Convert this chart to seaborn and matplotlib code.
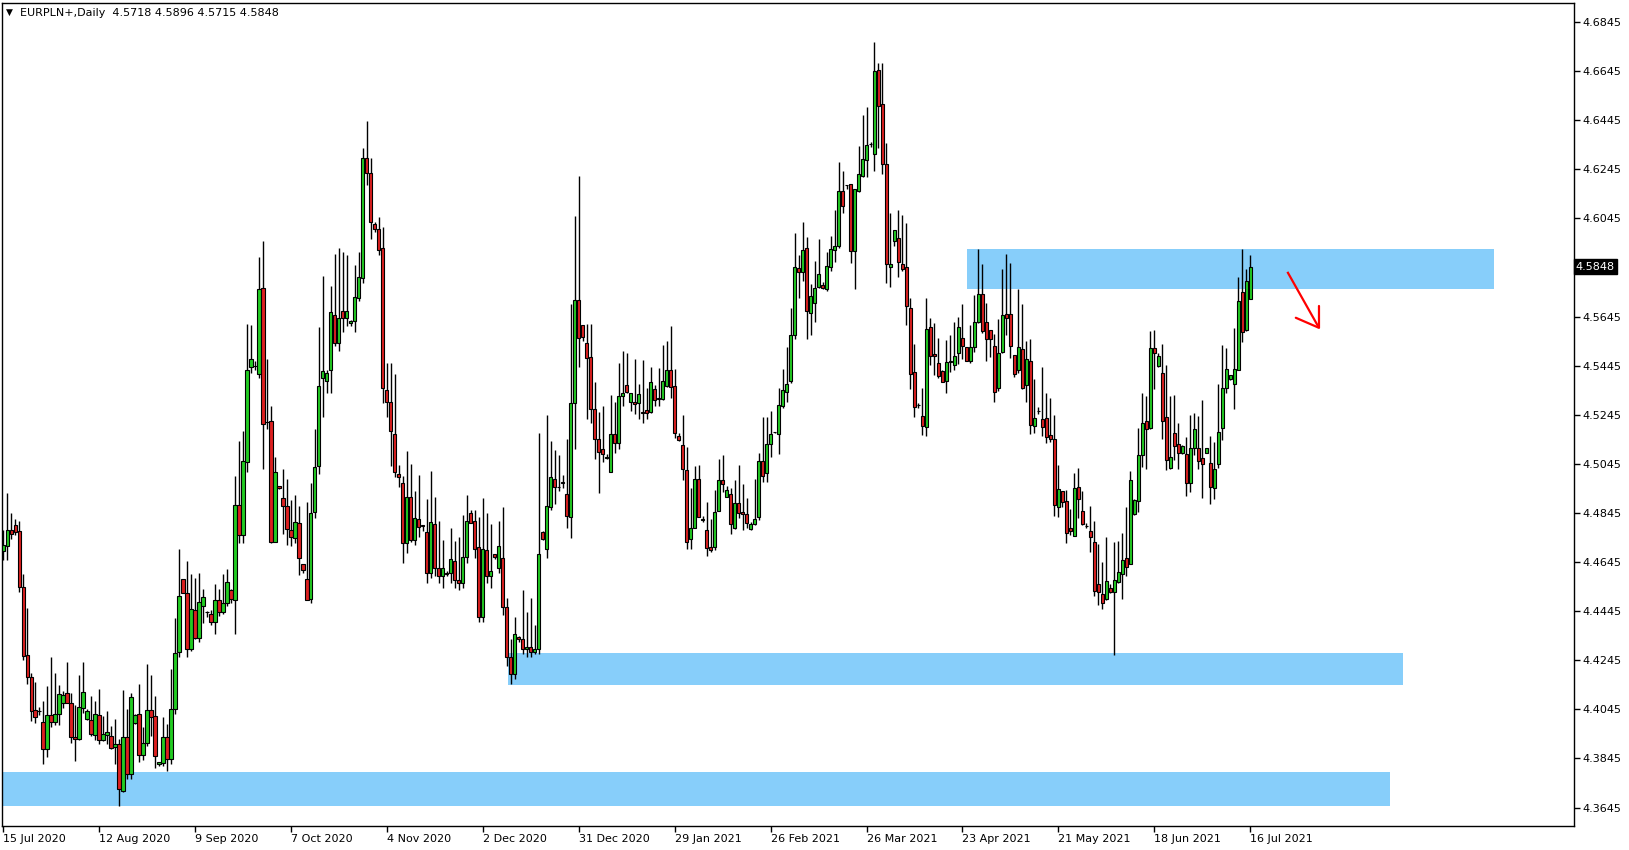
import numpy as np
import matplotlib
matplotlib.use("Agg")
import matplotlib.pyplot as plt
import matplotlib.transforms as mtransforms
import seaborn as sns

# ---------------- data ----------------
SYMBOL = "EURPLN+,Daily"
OPEN = [
 4.4691,4.4711,4.4775,4.4796,4.4771,4.4542,4.4266,4.4175,4.4042,4.4039,
 4.3992,4.3882,4.4022,4.3992,4.4028,4.4069,4.4110,4.4073,4.3931,4.3925,
 4.4052,4.4004,4.4001,4.3940,4.4024,4.3922,4.3942,4.3936,4.3893,4.3906,
 4.3713,4.3931,4.3780,4.3990,4.4028,4.3861,4.3910,4.4042,4.4018,4.3821,
 4.3827,4.3931,4.3841,4.4045,4.4280,4.4578,4.4521,4.4289,4.4449,4.4334,
 4.4467,4.4443,4.4435,4.4399,4.4490,4.4440,4.4480,4.4530,4.4492,4.4879,
 4.4757,4.5053,4.5438,4.5444,4.5409,4.5763,4.5216,4.5219,4.4727,4.4955,
 4.4904,4.4874,4.4775,4.4745,4.4806,4.4639,4.4574,4.4496,4.4847,4.5036,
 4.5395,4.5383,4.5427,4.5653,4.5539,4.5668,4.5640,4.5617,4.5628,4.5721,
 4.5800,4.6290,4.6230,4.6020,4.6000,4.5923,4.5346,4.5295,4.5166,4.5003,
 4.4965,4.4721,4.4908,4.4735,4.4819,4.4796,4.4766,4.4600,4.4802,4.4620,
 4.4590,4.4600,4.4600,4.4650,4.4570,4.4560,4.4664,4.4843,4.4813,4.4707,
 4.4420,4.4696,4.4590,4.4677,4.4620,4.4660,4.4460,4.4260,4.4190,4.4340,
 4.4330,4.4290,4.4300,4.4280,4.4290,4.4766,4.4700,4.4870,4.4982,4.4949,
 4.4968,4.4921,4.4830,4.5291,4.5712,4.5610,4.5536,4.5479,4.5267,4.5145,
 4.5105,4.5070,4.5013,4.5165,4.5131,4.5322,4.5366,4.5295,4.5295,4.5291,
 4.5257,4.5266,4.5257,4.5348,4.5311,4.5311,4.5362,4.5429,4.5362,4.5158,
 4.5121,4.5019,4.4737,4.4782,4.4985,4.4818,4.4775,4.4707,4.4707,4.4854,
 4.4979,4.4911,4.4924,4.4785,4.4884,4.4847,4.4839,4.4778,4.4799,4.4827,
 4.5056,4.5006,4.5125,4.5173,4.5165,4.5280,4.5339,4.5384,4.5570,4.5841,
 4.5827,4.5923,4.5661,4.5699,4.5766,4.5773,4.5757,4.5848,4.5916,4.5932,
 4.6156,4.6180,4.6183,4.5913,4.6157,4.6219,4.6282,4.6346,4.6305,4.6649,
 4.6509,4.6265,4.5848,4.5954,4.5963,4.5861,4.5845,4.5678,4.5418,4.5284,
 4.5240,4.5194,4.5601,4.5491,4.5457,4.5423,4.5384,4.5458,4.5447,4.5495,
 4.5556,4.5519,4.5465,4.5519,4.5621,4.5735,4.5621,4.5590,4.5524,4.5352,
 4.5499,4.5655,4.5655,4.5490,4.5429,4.5512,4.5368,4.5463,4.5200,4.5261,
 4.5227,4.5230,4.5162,4.5146,4.4870,4.4934,4.4893,4.4784,4.4752,4.4949,
 4.4852,4.4792,4.4771,4.4725,4.4557,4.4514,4.4496,4.4541,4.4524,4.4565,
 4.4598,4.4662,4.4636,4.4840,4.4894,4.5083,4.5220,4.5189,4.5515,4.5443,
 4.5417,4.5237,4.5030,4.5169,4.5124,4.5090,4.5084,4.4969,4.5108,4.5108,
 4.5067,4.5091,4.5050,4.4945,4.5046,4.5192,4.5352,4.5389,4.5372,4.5429,
 4.5743,4.5590,4.5718]
HIGH = [
 4.4775,4.4925,4.4843,4.4820,4.4812,4.4595,4.4456,4.4195,4.4157,4.4053,
 4.4079,4.4140,4.4259,4.4195,4.4144,4.4119,4.4238,4.4113,4.4061,4.4185,
 4.4238,4.4046,4.4100,4.4079,4.4129,4.4018,4.4038,4.3977,4.4005,4.3925,
 4.4123,4.4045,4.4110,4.4028,4.4148,4.3974,4.4229,4.4185,4.4100,4.3829,
 4.4013,4.3984,4.4209,4.4418,4.4698,4.4578,4.4649,4.4595,4.4582,4.4600,
 4.4537,4.4446,4.4449,4.4555,4.4537,4.4598,4.4615,4.4537,4.4995,4.5137,
 4.5178,4.5614,4.5610,4.5465,4.5886,4.5952,4.5471,4.5280,4.5071,4.4955,
 4.5023,4.4983,4.4897,4.4920,4.4874,4.4639,4.4888,4.4965,4.5185,4.5603,
 4.5810,4.5429,4.5769,4.5899,4.5926,4.5909,4.5895,4.5630,4.5854,4.5909,
 4.6330,4.6440,4.6290,4.6030,4.6050,4.6011,4.5454,4.5454,4.5411,4.5040,
 4.4995,4.5097,4.5044,4.4934,4.5000,4.4796,4.4902,4.5016,4.4908,4.4812,
 4.4734,4.4610,4.4782,4.4729,4.4747,4.4836,4.4920,4.4859,4.4859,4.4830,
 4.4904,4.4843,4.4800,4.4677,4.4813,4.4870,4.4500,4.4330,4.4420,4.4345,
 4.4530,4.4440,4.4500,4.4390,4.5172,4.4772,4.5244,4.5138,4.5101,4.5081,
 4.5000,4.5145,4.5696,4.6054,4.6217,4.5610,4.5614,4.5614,4.5377,4.5257,
 4.5280,4.5087,4.5325,4.5295,4.5454,4.5504,4.5497,4.5334,4.5474,4.5372,
 4.5470,4.5355,4.5438,4.5366,4.5434,4.5529,4.5545,4.5606,4.5431,4.5171,
 4.5243,4.5114,4.4947,4.5036,4.5040,4.4832,4.4890,4.4822,4.4938,4.5063,
 4.5080,4.4954,4.4947,4.4981,4.5042,4.4961,4.4904,4.4809,4.4983,4.5090,
 4.5237,4.5237,4.5260,4.5175,4.5355,4.5431,4.5522,4.5678,4.5986,4.5895,
 4.6031,4.5967,4.5777,4.5872,4.5959,4.5784,4.5909,4.5973,4.6079,4.6276,
 4.6238,4.6181,4.6183,4.6163,4.6339,4.6466,4.6497,4.6357,4.6762,4.6676,
 4.6676,4.6350,4.6068,4.5997,4.6079,4.6058,4.6027,4.5722,4.5532,4.5294,
 4.5352,4.5719,4.5638,4.5617,4.5559,4.5427,4.5549,4.5570,4.5621,4.5642,
 4.5696,4.5522,4.5610,4.5732,4.5920,4.5861,4.5702,4.5590,4.5572,4.5633,
 4.5838,4.5899,4.5864,4.5490,4.5759,4.5696,4.5545,4.5553,4.5390,4.5275,
 4.5440,4.5332,4.5315,4.5243,4.5040,4.4934,4.4940,4.4860,4.5008,4.5029,
 4.4934,4.4805,4.4874,4.4811,4.4718,4.4646,4.4748,4.4555,4.4727,4.4730,
 4.4764,4.4870,4.5017,4.4900,4.5192,4.5332,4.5321,4.5585,4.5590,4.5495,
 4.5535,4.5447,4.5321,4.5325,4.5213,4.5121,4.5155,4.5243,4.5253,4.5239,
 4.5304,4.5110,4.5158,4.5135,4.5372,4.5529,4.5515,4.5406,4.5600,4.5804,
 4.5922,4.5837,4.5896]
LOW = [
 4.4653,4.4653,4.4737,4.4755,4.4524,4.4248,4.4147,4.3999,4.3988,4.4024,
 4.3821,4.3852,4.3974,4.3981,4.3981,4.4052,4.4069,4.3909,4.3836,4.3920,
 4.4031,4.4001,4.3936,4.3922,4.3903,4.3917,4.3902,4.3882,4.3821,4.3652,
 4.3709,4.3760,4.3760,4.3986,4.3832,4.3838,4.3897,4.3937,4.3808,4.3815,
 4.3815,4.3795,4.3822,4.4028,4.4257,4.4521,4.4259,4.4284,4.4330,4.4320,
 4.4395,4.4422,4.4388,4.4350,4.4426,4.4435,4.4467,4.4479,4.4350,4.4721,
 4.4721,4.5010,4.5416,4.5429,4.5393,4.5022,4.5186,4.4721,4.4727,4.4941,
 4.4761,4.4716,4.4711,4.4721,4.4594,4.4602,4.4490,4.4480,4.4826,4.5002,
 4.5237,4.5334,4.5334,4.5526,4.5505,4.5583,4.5606,4.5607,4.5583,4.5709,
 4.5780,4.6180,4.5960,4.5990,4.5895,4.5294,4.5234,4.5037,4.4992,4.4949,
 4.4640,4.4680,4.4728,4.4714,4.4748,4.4772,4.4560,4.4580,4.4590,4.4560,
 4.4540,4.4590,4.4560,4.4540,4.4530,4.4540,4.4640,4.4806,4.4660,4.4400,
 4.4400,4.4560,4.4540,4.4657,4.4600,4.4430,4.4220,4.4150,4.4170,4.4320,
 4.4270,4.4260,4.4260,4.4270,4.4270,4.4735,4.4663,4.4857,4.4881,4.4935,
 4.4948,4.4782,4.4741,4.5104,4.5441,4.5547,4.5226,4.5210,4.5063,4.4927,
 4.5051,4.5063,4.5013,4.5090,4.5104,4.5280,4.5332,4.5260,4.5250,4.5227,
 4.5212,4.5227,4.5253,4.5280,4.5280,4.5307,4.5359,4.5314,4.5152,4.5139,
 4.4981,4.4700,4.4700,4.4782,4.4829,4.4809,4.4670,4.4687,4.4693,4.4854,
 4.4931,4.4911,4.4761,4.4779,4.4825,4.4775,4.4784,4.4775,4.4795,4.4816,
 4.4972,4.4972,4.5071,4.5171,4.5087,4.5271,4.5298,4.5376,4.5552,4.5719,
 4.5791,4.5552,4.5570,4.5624,4.5763,4.5757,4.5750,4.5832,4.5868,4.5923,
 4.6068,4.6163,4.5865,4.5757,4.6151,4.6214,4.6212,4.6337,4.6239,4.6330,
 4.6224,4.5780,4.5764,4.5932,4.5807,4.5832,4.5610,4.5348,4.5237,4.5271,
 4.5162,4.5160,4.5447,4.5407,4.5396,4.5377,4.5335,4.5420,4.5427,4.5452,
 4.5474,4.5465,4.5457,4.5501,4.5617,4.5579,4.5465,4.5481,4.5298,4.5342,
 4.5495,4.5569,4.5477,4.5399,4.5416,4.5349,4.5298,4.5166,4.5171,4.5250,
 4.5159,4.5128,4.5132,4.4833,4.4829,4.4870,4.4721,4.4757,4.4752,4.4826,
 4.4795,4.4784,4.4687,4.4507,4.4472,4.4453,4.4492,4.4519,4.4266,4.4560,
 4.4496,4.4589,4.4636,4.4836,4.4850,4.5033,4.5023,4.5185,4.5348,4.5440,
 4.5148,4.5019,4.5026,4.5060,4.5026,4.5087,4.4915,4.4931,4.5080,4.5022,
 4.4907,4.5090,4.4883,4.4900,4.5030,4.5144,4.5332,4.5386,4.5270,4.5427,
 4.5542,4.5586,4.5715]
CLOSE = [
 4.4714,4.4775,4.4758,4.4766,4.4542,4.4263,4.4175,4.4039,4.4012,4.4040,
 4.3882,4.4022,4.3992,4.4028,4.4107,4.4103,4.4073,4.3933,4.3925,4.4053,
 4.4114,4.4038,4.3943,4.4028,4.3922,4.3944,4.3951,4.3886,4.3906,4.3719,
 4.3933,4.3780,4.4094,4.4022,4.3861,4.3910,4.4042,4.4012,4.3856,4.3829,
 4.3931,4.3841,4.4046,4.4273,4.4506,4.4521,4.4289,4.4453,4.4334,4.4481,
 4.4501,4.4440,4.4402,4.4490,4.4440,4.4480,4.4562,4.4496,4.4879,4.4754,
 4.5056,4.5429,4.5474,4.5444,4.5759,4.5209,4.5216,4.4727,4.5010,4.4945,
 4.4874,4.4778,4.4748,4.4809,4.4663,4.4612,4.4492,4.4845,4.5033,4.5363,
 4.5424,4.5416,4.5664,4.5539,4.5641,4.5637,4.5667,4.5626,4.5723,4.5804,
 4.6290,4.6230,4.6030,4.6000,4.5916,4.5352,4.5298,4.5180,4.5013,4.4992,
 4.4721,4.4911,4.4735,4.4823,4.4786,4.4790,4.4600,4.4809,4.4620,4.4590,
 4.4620,4.4595,4.4656,4.4570,4.4560,4.4664,4.4813,4.4806,4.4700,4.4420,
 4.4700,4.4590,4.4610,4.4667,4.4710,4.4460,4.4260,4.4190,4.4350,4.4330,
 4.4290,4.4300,4.4280,4.4290,4.4677,4.4737,4.4874,4.4993,4.4949,4.4949,
 4.4970,4.4834,4.5291,4.5712,4.5556,4.5560,4.5475,4.5267,4.5145,4.5094,
 4.5087,4.5070,4.5165,4.5128,4.5321,4.5332,4.5338,4.5332,4.5288,4.5328,
 4.5253,4.5253,4.5377,4.5305,4.5311,4.5382,4.5429,4.5356,4.5169,4.5142,
 4.5022,4.4727,4.4782,4.4985,4.4829,4.4818,4.4704,4.4693,4.4847,4.4979,
 4.4961,4.4938,4.4798,4.4884,4.4843,4.4839,4.4806,4.4802,4.4822,4.5056,
 4.4996,4.5124,4.5165,4.5173,4.5284,4.5346,4.5369,4.5570,4.5845,4.5825,
 4.5916,4.5669,4.5728,4.5760,4.5817,4.5760,4.5851,4.5920,4.5932,4.6156,
 4.6096,4.6180,4.5913,4.6163,4.6224,4.6285,4.6343,4.6346,4.6645,4.6504,
 4.6265,4.5857,4.5857,4.5997,4.5868,4.5838,4.5689,4.5409,4.5278,4.5284,
 4.5200,4.5593,4.5485,4.5485,4.5404,4.5380,4.5461,4.5464,4.5484,4.5601,
 4.5526,4.5465,4.5519,4.5621,4.5735,4.5587,4.5552,4.5552,4.5338,4.5495,
 4.5651,4.5637,4.5526,4.5409,4.5522,4.5355,4.5471,4.5205,4.5230,4.5261,
 4.5196,4.5155,4.5146,4.4879,4.4942,4.4888,4.4764,4.4772,4.4947,4.4901,
 4.4799,4.4792,4.4748,4.4528,4.4524,4.4479,4.4567,4.4524,4.4571,4.4605,
 4.4653,4.4623,4.4979,4.4897,4.5083,4.5213,4.5185,4.5515,4.5495,4.5484,
 4.5220,4.5060,4.5074,4.5117,4.5091,4.5117,4.4969,4.5108,4.5186,4.5056,
 4.5046,4.5108,4.4951,4.5026,4.5173,4.5352,4.5433,4.5406,4.5433,4.5708,
 4.5583,4.5789,4.5848]

DATE_LABELS = ["15 Jul 2020", "12 Aug 2020", "9 Sep 2020", "7 Oct 2020",
               "4 Nov 2020", "2 Dec 2020", "31 Dec 2020", "29 Jan 2021",
               "26 Feb 2021", "26 Mar 2021", "23 Apr 2021", "21 May 2021",
               "18 Jun 2021", "16 Jul 2021"]
DATE_BAR_INDEX = [0, 24, 48, 72, 96, 120, 144, 168, 192, 216, 240, 264, 288, 312]
PRICE_TICKS = [4.3645, 4.3845, 4.4045, 4.4245, 4.4445, 4.4645, 4.4845, 4.5045,
               4.5245, 4.5445, 4.5645, 4.5845, 4.6045, 4.6245, 4.6445, 4.6645, 4.6845]
# supply / demand zones: (start bar, end bar, low price, high price)
ZONE_X0 = [241.2, 126.3, -1.0]
ZONE_X1 = [373.0, 350.1, 347.0]
ZONE_LO = [4.5758, 4.4144, 4.3652]
ZONE_HI = [4.5920, 4.4276, 4.3789]
# hand-drawn arrow (bar index, price)
ARROW_SHAFT_X = [321.3, 329.2]
ARROW_SHAFT_Y = [4.5827, 4.5599]
ARROW_HEAD_X = [323.4, 329.2, 329.2]
ARROW_HEAD_Y = [4.5640, 4.5599, 4.5688]
LAST_PRICE = 4.5848

# ---------------- style ----------------
sns.set_theme(style="white")
plt.rcParams['font.family'] = ['DejaVu Sans']

W, H = 1629, 850
fig = plt.figure(figsize=(W / 100, H / 100), dpi=100)
fig.patch.set_facecolor("white")
ax_l, ax_r, ax_t, ax_b = 2, 1574, 3, 826
ax = fig.add_axes([ax_l / W, 1 - ax_b / H, (ax_r - ax_l) / W, (ax_b - ax_t) / H])
ax.set_facecolor("white")

o = np.array(OPEN); h = np.array(HIGH); l = np.array(LOW); c = np.array(CLOSE)
x = np.arange(len(o))

# zones
for x0, x1, lo, hi in zip(ZONE_X0, ZONE_X1, ZONE_LO, ZONE_HI):
    ax.fill_between([x0, x1], lo, hi, color="#87CEFA", linewidth=0, zorder=0)

# wicks
ax.vlines(x, l, h, color="black", linewidth=1.0, zorder=2)
# bodies
up = c >= o
bottom = np.minimum(o, c)
height = np.maximum(np.abs(c - o), 0.00012)
colors = np.where(up, "#22CC22", "#DD2020")
ax.bar(x, height, bottom=bottom, width=0.8, color=colors, edgecolor="black",
       linewidth=0.8, zorder=3)

# arrow
ax.plot(ARROW_SHAFT_X, ARROW_SHAFT_Y, color="#FF0000", linewidth=1.6, zorder=4,
        solid_capstyle="butt")
ax.plot(ARROW_HEAD_X, ARROW_HEAD_Y, color="#FF0000", linewidth=1.6, zorder=4)

# axes
ax.set_xlim(-0.28, 393.0)
ax.set_ylim(4.3570, 4.6922)
for s in ax.spines.values():
    s.set_visible(True)
    s.set_color("black")
    s.set_linewidth(1.0)
ax.yaxis.tick_right()
ax.set_yticks(PRICE_TICKS)
# the label nearest the last-price marker is hidden by it, as in the terminal
ax.set_yticklabels(["" if abs(v - LAST_PRICE) < 0.005 else f"{v:.4f}"
                    for v in PRICE_TICKS])
ax.tick_params(axis="y", which="both", right=True, left=False, length=4, width=1,
               color="black", pad=2, labelsize=8, labelcolor="black")
ax.set_xticks(DATE_BAR_INDEX)
ax.set_xticklabels(DATE_LABELS)
ax.tick_params(axis="x", which="both", bottom=True, length=4, width=1,
               color="black", pad=2, labelsize=8, labelcolor="black")
for lab in ax.get_xticklabels():
    lab.set_ha("left")
ax.grid(False)

# last price marker
trans = mtransforms.blended_transform_factory(ax.transAxes, ax.transData)
ax.text(1.0012, LAST_PRICE, f"{LAST_PRICE:.4f}", transform=trans, ha="left",
        va="center", color="white", fontsize=8, zorder=10,
        bbox=dict(facecolor="black", edgecolor="black", pad=1.6))

# header
fig.text(5.5 / W, 1 - 12.5 / H, "\u25BC", fontsize=6.5, va="center", ha="left",
         color="black")
fig.text(20.5 / W, 1 - 12.5 / H,
         f"{SYMBOL}  {OPEN[-1]:.4f} {HIGH[-1]:.4f} {LOW[-1]:.4f} {CLOSE[-1]:.4f}",
         fontsize=8, va="center", ha="left", color="black")

fig.savefig("out.png", dpi=100, facecolor="white")
